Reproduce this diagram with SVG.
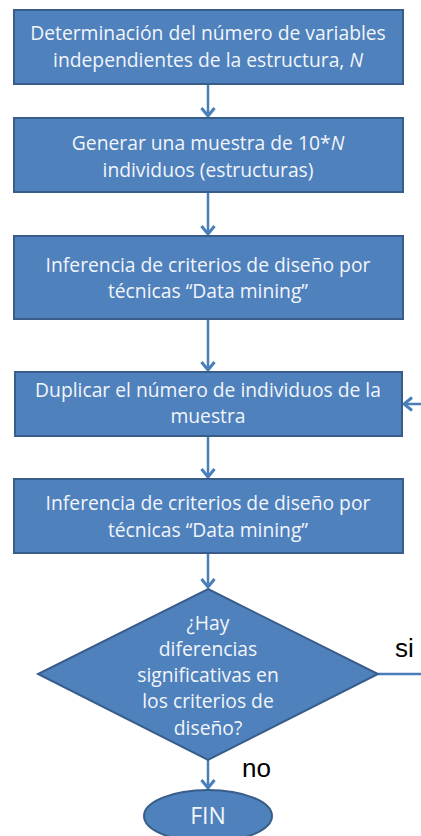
<svg xmlns="http://www.w3.org/2000/svg" width="421" height="836" viewBox="0 0 421 836">
<style>
.box{fill:#4F81BD;stroke:#385D8A;stroke-width:2}
.t{font-family:"Open Sans",Lato,"Liberation Sans",sans-serif;font-size:19.3px;fill:#F2F5FA;text-anchor:middle}
.lbl{font-family:"Liberation Sans",Arial,sans-serif;font-size:26px;fill:#000}
.c{fill:none;stroke:#4A7EBB;stroke-width:2.5}
</style>
<defs>
<marker id="ah" viewBox="0 0 12 16" refX="10" refY="8" markerWidth="12" markerHeight="16" orient="auto" markerUnits="userSpaceOnUse">
<path d="M2,1.5 L10,8 L2,14.5" fill="none" stroke="#4A7EBB" stroke-width="3"/>
</marker>
</defs>
<rect width="421" height="836" fill="#fff"/>
<g id="connectors">
<line class="c" x1="208" y1="85" x2="208" y2="116" marker-end="url(#ah)"/>
<line class="c" x1="208" y1="193" x2="208" y2="234" marker-end="url(#ah)"/>
<line class="c" x1="208" y1="320" x2="208" y2="370" marker-end="url(#ah)"/>
<line class="c" x1="208" y1="437" x2="208" y2="477" marker-end="url(#ah)"/>
<line class="c" x1="208" y1="554" x2="208" y2="587" marker-end="url(#ah)"/>
<line class="c" x1="208" y1="760" x2="208" y2="788" marker-end="url(#ah)"/>
<line class="c" x1="378" y1="674" x2="421" y2="674"/>
<line class="c" x1="421" y1="404" x2="404" y2="404" marker-end="url(#ah)"/>
<text class="lbl" x="395" y="657">si</text>
<text class="lbl" x="242" y="777">no</text>
</g>
<g id="n1">
<rect class="box" x="14" y="10" width="389" height="74"/>
<text class="t" x="208" y="40">Determinación del número de variables</text>
<text class="t" x="208" y="67">independientes de la estructura, <tspan font-style="italic">N</tspan></text>
</g>
<g id="n2">
<rect class="box" x="14" y="118" width="389" height="74"/>
<text class="t" x="208" y="150">Generar una muestra de 10*<tspan font-style="italic">N</tspan></text>
<text class="t" x="208" y="177">individuos (estructuras)</text>
</g>
<g id="n3">
<rect class="box" x="14" y="236" width="389" height="83"/>
<text class="t" x="208" y="272">Inferencia de criterios de diseño por</text>
<text class="t" x="208" y="298">técnicas “Data mining”</text>
</g>
<g id="n4">
<rect class="box" x="15" y="372" width="387" height="64"/>
<text class="t" x="208" y="397">Duplicar el número de individuos de la</text>
<text class="t" x="208" y="423">muestra</text>
</g>
<g id="n5">
<rect class="box" x="14" y="479" width="389" height="74"/>
<text class="t" x="208" y="510">Inferencia de criterios de diseño por</text>
<text class="t" x="208" y="537">técnicas “Data mining”</text>
</g>
<g id="n6">
<polygon class="box" points="208,589 378,674 208,760 38,674"/>
<text class="t" x="208" y="630">¿Hay</text>
<text class="t" x="208" y="656">diferencias</text>
<text class="t" x="208" y="682">significativas en</text>
<text class="t" x="208" y="708">los criterios de</text>
<text class="t" x="208" y="735">diseño?</text>
</g>
<g id="n7">
<ellipse class="box" cx="208" cy="816" rx="64" ry="26"/>
<text class="t" x="208" y="824" style="font-size:23px">FIN</text>
</g>
</svg>
